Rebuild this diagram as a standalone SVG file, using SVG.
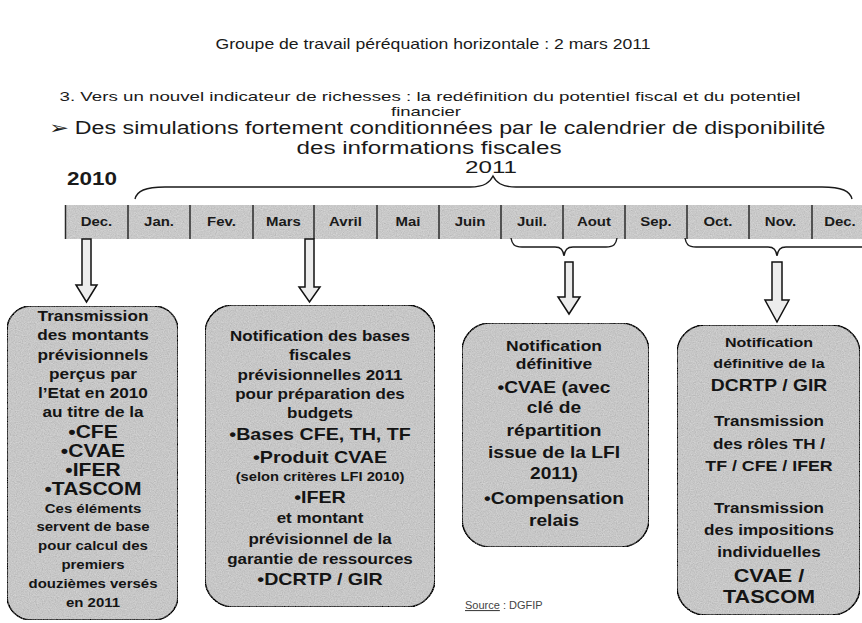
<svg xmlns="http://www.w3.org/2000/svg" width="862" height="623" viewBox="0 0 862 623">
<defs>
<filter id="grain" x="0" y="0" width="100%" height="100%">
<feTurbulence type="fractalNoise" baseFrequency="0.85" numOctaves="2" seed="4" result="n"/>
<feColorMatrix in="n" type="matrix" values="0.33 0.33 0.33 0 0 0.33 0.33 0.33 0 0 0.33 0.33 0.33 0 0 0 0 0 0 1" result="g"/>
<feComposite in="SourceGraphic" in2="g" operator="arithmetic" k1="0" k2="1" k3="0.45" k4="-0.22" result="m"/>
<feComposite in="m" in2="SourceGraphic" operator="in"/>
</filter>
</defs>
<style>
.hd{font-family:"Liberation Sans",Arial,Helvetica,sans-serif;fill:#1a1a1a;text-anchor:middle}
.bx{fill:#c6c6c6;stroke:#1e1e1e;stroke-width:1.6}
.bt{font-family:"Liberation Sans",Arial,Helvetica,sans-serif;font-weight:bold;fill:#141414;text-anchor:middle}
.mo{font-family:"Liberation Sans",Arial,Helvetica,sans-serif;font-weight:bold;font-size:13px;fill:#1a1a1a;text-anchor:middle}
.dv{stroke:#2a2a2a;stroke-width:1.5}
.ar{fill:#ececec;stroke:#111;stroke-width:1.5;stroke-linejoin:miter}
.br{fill:none;stroke:#1a1a1a;stroke-width:1.4}
</style>
<rect width="862" height="623" fill="#ffffff"/>

<g id="header">
<text class="hd" x="433" y="49" font-size="14.5" textLength="435" lengthAdjust="spacingAndGlyphs">Groupe de travail péréquation horizontale : 2 mars 2011</text>
<text class="hd" x="430" y="101" font-size="13.5" textLength="741" lengthAdjust="spacingAndGlyphs">3. Vers un nouvel indicateur de richesses : la redéfinition du potentiel fiscal et du potentiel</text>
<text class="hd" x="426" y="115.5" font-size="13" textLength="70" lengthAdjust="spacingAndGlyphs">financier</text>
<text class="hd" x="437" y="134" font-size="17.5" textLength="777" lengthAdjust="spacingAndGlyphs">➢ Des simulations fortement conditionnées par le calendrier de disponibilité</text>
<text class="hd" x="429" y="153.5" font-size="17.5" textLength="265" lengthAdjust="spacingAndGlyphs">des informations fiscales</text>
<text class="hd" x="491" y="173" font-size="16.5" textLength="52" lengthAdjust="spacingAndGlyphs">2011</text>
<text class="hd" x="92" y="185" font-size="18" font-weight="bold" textLength="50" lengthAdjust="spacingAndGlyphs">2010</text>
</g>

<g id="timeline">
<rect x="65" y="205" width="797" height="34" fill="#c8c8c8" filter="url(#grain)"/>
<line class="dv" x1="65.5" y1="205" x2="65.5" y2="239" stroke-width="2"/>
<line class="dv" x1="128" y1="205" x2="128" y2="239"/>
<line class="dv" x1="190" y1="205" x2="190" y2="239"/>
<line class="dv" x1="253" y1="205" x2="253" y2="239"/>
<line class="dv" x1="314" y1="205" x2="314" y2="239"/>
<line class="dv" x1="377" y1="205" x2="377" y2="239"/>
<line class="dv" x1="439" y1="205" x2="439" y2="239"/>
<line class="dv" x1="501" y1="205" x2="501" y2="239"/>
<line class="dv" x1="563" y1="205" x2="563" y2="239"/>
<line class="dv" x1="625" y1="205" x2="625" y2="239"/>
<line class="dv" x1="687" y1="205" x2="687" y2="239"/>
<line class="dv" x1="749" y1="205" x2="749" y2="239"/>
<line class="dv" x1="812" y1="205" x2="812" y2="239"/>
<g transform="scale(1.15 1)">
<text class="mo" x="83.9" y="226.5">Dec.</text>
<text class="mo" x="138.3" y="226.5">Jan.</text>
<text class="mo" x="192.6" y="226.5">Fev.</text>
<text class="mo" x="246.5" y="226.5">Mars</text>
<text class="mo" x="300.4" y="226.5">Avril</text>
<text class="mo" x="354.8" y="226.5">Mai</text>
<text class="mo" x="408.7" y="226.5">Juin</text>
<text class="mo" x="462.6" y="226.5">Juil.</text>
<text class="mo" x="516.5" y="226.5">Aout</text>
<text class="mo" x="570.4" y="226.5">Sep.</text>
<text class="mo" x="624.3" y="226.5">Oct.</text>
<text class="mo" x="678.7" y="226.5">Nov.</text>
<text class="mo" x="730.4" y="226.5">Dec.</text>
</g>
</g>

<g id="connectors">
<path class="br" d="M135,199 C137,191 145,187 165,187 L470,187 C485,187 490,182 493,176 C496,182 501,187 516,187 L822,187 C842,187 850,191 852,199"/>
<path class="br" d="M511,238 C512,244 514,247 522,247 L555,247 C561,247 563,250 564,256 C565,250 567,247 573,247 L606,247 C614,247 616,244 617,238"/>
<path class="br" d="M685,238 C686,244 688,247 696,247 L768,247 C774,247 776,250 777,256 C778,250 780,247 786,247 L864,247"/>
<polygon class="ar" points="82,239 91,239 91,285 97,285 86.5,302 76,285 82,285"/>
<polygon class="ar" points="305,239 314,239 314,287 320,287 309.5,302 299,287 305,287"/>
<polygon class="ar" points="565,262 573,262 573,297 580,297 569,314 558,297 565,297"/>
<polygon class="ar" points="772,262 782,262 782,300 789,300 777,322 765,300 772,300"/>
</g>

<g id="box-dec">
<rect class="bx" x="7" y="306" width="171" height="314" rx="24" filter="url(#grain)"/>
<g transform="translate(93 0) scale(1.17 1)">
<text class="bt" x="0" y="321.3" font-size="14.7">Transmission</text>
<text class="bt" x="0" y="340.5" font-size="14.7">des montants</text>
<text class="bt" x="0" y="359.7" font-size="14.7">prévisionnels</text>
<text class="bt" x="0" y="378.9" font-size="14.7">perçus par</text>
<text class="bt" x="0" y="398.1" font-size="14.7">l’Etat en 2010</text>
<text class="bt" x="0" y="417.3" font-size="14.7">au titre de la</text>
<text class="bt" x="0" y="437.7" font-size="18">•CFE</text>
<text class="bt" x="0" y="456.9" font-size="18">•CVAE</text>
<text class="bt" x="0" y="476.1" font-size="18">•IFER</text>
<text class="bt" x="0" y="495.3" font-size="18">•TASCOM</text>
<text class="bt" x="0" y="512.6" font-size="12.8">Ces éléments</text>
<text class="bt" x="0" y="531.4" font-size="12.8">servent de base</text>
<text class="bt" x="0" y="550.2" font-size="12.8">pour calcul des</text>
<text class="bt" x="0" y="569" font-size="12.8">premiers</text>
<text class="bt" x="0" y="587.8" font-size="12.8">douzièmes versés</text>
<text class="bt" x="0" y="607" font-size="12.8">en 2011</text>
</g>
</g>

<g id="box-mars">
<rect class="bx" x="205" y="305" width="230" height="302" rx="28" filter="url(#grain)"/>
<g transform="translate(320 0) scale(1.17 1)">
<text class="bt" x="0" y="341.2" font-size="14.5">Notification des bases</text>
<text class="bt" x="0" y="360.2" font-size="14.5">fiscales</text>
<text class="bt" x="0" y="379.7" font-size="14.5">prévisionnelles 2011</text>
<text class="bt" x="0" y="399.2" font-size="14.5">pour préparation des</text>
<text class="bt" x="0" y="418.2" font-size="14.5">budgets</text>
<text class="bt" x="0" y="440.5" font-size="16.8">•Bases CFE, TH, TF</text>
<text class="bt" x="0" y="463" font-size="16.8">•Produit CVAE</text>
<text class="bt" x="0" y="481.5" font-size="12.6">(selon critères LFI 2010)</text>
<text class="bt" x="0" y="503" font-size="16.8">•IFER</text>
<text class="bt" x="0" y="523.2" font-size="14.5">et montant</text>
<text class="bt" x="0" y="543.7" font-size="14.5">prévisionnel de la</text>
<text class="bt" x="0" y="563.7" font-size="14.5">garantie de ressources</text>
<text class="bt" x="0" y="585" font-size="16.8">•DCRTP / GIR</text>
</g>
</g>

<g id="box-juil-aout">
<rect class="bx" x="462" y="323" width="187" height="224" rx="28" filter="url(#grain)"/>
<g transform="translate(554 0) scale(1.17 1)">
<text class="bt" x="0" y="351.1" font-size="14.9">Notification</text>
<text class="bt" x="0" y="369.4" font-size="14.9">définitive</text>
<text class="bt" x="0" y="392.6" font-size="16.4">•CVAE (avec</text>
<text class="bt" x="0" y="413.2" font-size="16.4">clé de</text>
<text class="bt" x="0" y="435.9" font-size="16.4">répartition</text>
<text class="bt" x="0" y="457.6" font-size="16.4">issue de la LFI</text>
<text class="bt" x="0" y="479.2" font-size="16.4">2011)</text>
<text class="bt" x="0" y="504.2" font-size="16.4">•Compensation</text>
<text class="bt" x="0" y="525.9" font-size="16.4">relais</text>
</g>
</g>

<g id="box-oct-dec">
<rect class="bx" x="677" y="325" width="183" height="290" rx="28" filter="url(#grain)"/>
<g transform="translate(769 0) scale(1.17 1)">
<text class="bt" x="0" y="346.6" font-size="13.7">Notification</text>
<text class="bt" x="0" y="368.2" font-size="13.7">définitive de la</text>
<text class="bt" x="0" y="390.9" font-size="16.5">DCRTP / GIR</text>
<text class="bt" x="0" y="426.3" font-size="14.6">Transmission</text>
<text class="bt" x="0" y="448.6" font-size="14.6">des rôles TH /</text>
<text class="bt" x="0" y="471.2" font-size="15.2">TF / CFE / IFER</text>
<text class="bt" x="0" y="513" font-size="14.6">Transmission</text>
<text class="bt" x="0" y="535.3" font-size="14.6">des impositions</text>
<text class="bt" x="0" y="557" font-size="14.6">individuelles</text>
<text class="bt" x="0" y="581.7" font-size="18.5">CVAE /</text>
<text class="bt" x="0" y="603.4" font-size="18.5">TASCOM</text>
</g>
</g>

<g id="source">
<text x="465" y="609" font-family="'Liberation Sans',Arial,Helvetica,sans-serif" font-size="11" fill="#444"><tspan text-decoration="underline">Source</tspan> : DGFIP</text>
</g>
</svg>
